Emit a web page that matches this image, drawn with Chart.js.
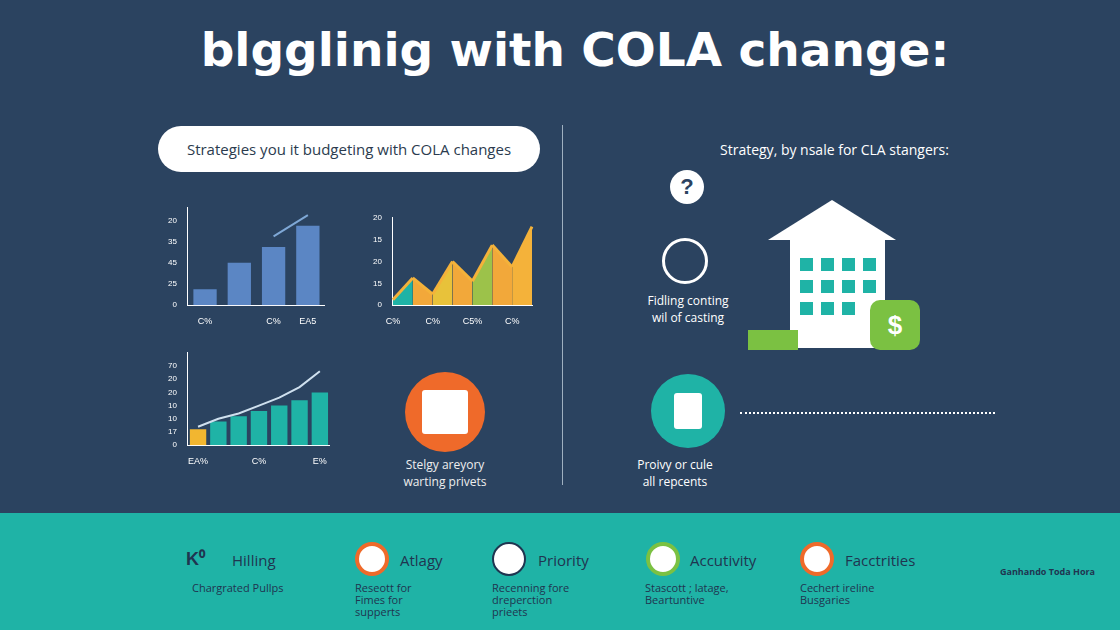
<!DOCTYPE html>
<html><head><meta charset="utf-8">
<script src="https://cdn.jsdelivr.net/npm/chart.js@4/dist/chart.umd.min.js"></script>
<style>
body{margin:0;width:1120px;height:630px;overflow:hidden;background:#2b4360;font-family:"Open Sans",sans-serif;position:relative}
.t{position:absolute;color:#fff}
#title{left:180px;width:790px;top:22px;text-align:center;font:700 47px "DejaVu Sans",sans-serif}
#pill{left:158px;top:126px;width:382px;height:46px;background:#fff;border-radius:23px;color:#2b3b4e;font-size:15px;line-height:46px;text-align:center}
#div{position:absolute;left:562px;top:125px;width:1px;height:360px;background:#9fb0c0}
canvas{position:absolute}
#band{position:absolute;left:0;top:513px;width:1120px;height:117px;background:#1fb3a6}
.it{position:absolute;top:550px;color:#1f3550;font-size:15px}
.cap{position:absolute;top:582px;color:#1f3550;font-size:11px;line-height:12px}
.ic{position:absolute;top:542px;width:34px;height:34px;border-radius:50%;background:#fff;box-sizing:border-box}
.w{position:absolute;width:13px;height:13px;background:#1fb3a6}
</style></head><body>
<div class="t" id="title">blgglinig with COLA change:</div>
<div class="t" id="pill">Strategies you it budgeting with COLA changes</div>
<div id="div"></div>
<div class="t" style="left:720px;top:140px;font-size:14px">Strategy, by nsale for CLA stangers:</div>
<div class="t" style="left:640px;top:292px;font-size:12px;text-align:center;width:96px">Fidling conting wil of casting</div>
<div class="t" style="left:395px;top:456px;font-size:12px;color:#eee;text-align:center;width:100px">Stelgy areyory warting privets</div>
<div class="t" style="left:630px;top:456px;font-size:12px;text-align:center;width:90px">Proivy or cule all repcents</div>
<div style="position:absolute;left:670px;top:170px;width:34px;height:34px;border-radius:50%;background:#fff;color:#2b4360;font:700 22px sans-serif;text-align:center;line-height:34px">?</div>
<div style="position:absolute;left:405px;top:372px;width:80px;height:80px;border-radius:50%;background:#ef6a2a"></div>
<div style="position:absolute;left:422px;top:390px;width:46px;height:44px;background:#fff;border-radius:3px"></div>
<div style="position:absolute;left:651px;top:374px;width:74px;height:74px;border-radius:50%;background:#1fb3a6"></div>
<div style="position:absolute;left:674px;top:393px;width:28px;height:36px;background:#fff;border-radius:3px"></div>
<div style="position:absolute;left:740px;top:412px;width:255px;border-top:2px dotted #fff"></div>
<div style="position:absolute;left:790px;top:238px;width:95px;height:110px;background:#fff"></div>
<div style="position:absolute;left:768px;top:200px;width:0;height:0;border-left:64px solid transparent;border-right:64px solid transparent;border-bottom:40px solid #fff"></div>
<div class="w" style="left:800px;top:258px"></div><div class="w" style="left:821px;top:258px"></div><div class="w" style="left:842px;top:258px"></div><div class="w" style="left:863px;top:258px"></div>
<div class="w" style="left:800px;top:280px"></div><div class="w" style="left:821px;top:280px"></div><div class="w" style="left:842px;top:280px"></div><div class="w" style="left:863px;top:280px"></div>
<div class="w" style="left:800px;top:302px"></div><div class="w" style="left:821px;top:302px"></div><div class="w" style="left:842px;top:302px"></div>
<div style="position:absolute;left:748px;top:330px;width:50px;height:20px;background:#7bc142"></div>
<div style="position:absolute;left:870px;top:300px;width:50px;height:50px;border-radius:10px;background:#7bc142;color:#fff;font:700 26px sans-serif;text-align:center;line-height:50px">$</div>
<div style="position:absolute;left:662px;top:238px;width:40px;height:40px;border-radius:50%;border:3px solid #fff"></div>
<canvas id="c1" style="left:165px;top:200px" width="160" height="130"></canvas>
<canvas id="c2" style="left:370px;top:210px" width="165" height="120"></canvas>
<canvas id="c3" style="left:165px;top:345px" width="165" height="125"></canvas>
<div id="band"></div>
<div class="ic" style="left:186px;background:none;color:#1f3550;font:700 18px sans-serif;line-height:34px">K⁰</div>
<div class="it" style="left:232px">Hilling</div><div class="cap" style="left:192px">Chargrated Pullps</div>
<div class="ic" style="left:355px;border:4px solid #ef6a2a"></div>
<div class="it" style="left:400px">Atlagy</div><div class="cap" style="left:355px">Reseott for<br>Fimes for<br>supperts</div>
<div class="ic" style="left:492px;border:2px solid #1f3550"></div>
<div class="it" style="left:538px">Priority</div><div class="cap" style="left:492px">Recenning fore<br>dreperction<br>prieets</div>
<div class="ic" style="left:646px;border:4px solid #7bc142"></div>
<div class="it" style="left:690px">Accutivity</div><div class="cap" style="left:645px">Stascott ; latage,<br>Beartuntive</div>
<div class="ic" style="left:800px;border:4px solid #ef6a2a"></div>
<div class="it" style="left:845px">Facctrities</div><div class="cap" style="left:800px">Cechert ireline<br>Busgaries</div>
<div class="t" style="left:1000px;top:565px;font-size:9px;color:#1f3550;font-weight:700">Ganhando Toda Hora</div>
<script>
const labels1=['C%','','C%','EA5'];
const vals1=[15,40,55,75];
const yTicks1=['0','25','45','35','20'];
const labels2=['C%','','C%','','C5%','','C%',''];
const vals2=[5,25,10,40,22,55,35,72];
const yTicks2=['0','15','20','15','20'];
const labels3=['EA%','','','C%','','','E%'];
const vals3=[12,18,22,26,30,34,40];
const trend3=[14,20,24,30,36,44,56];
const yTicks3=['0','17','10','10','20','20','70'];
const trend1=[null,null,65,85];
const txt='#fff';
function sc(ticks,max,step){return {
 x:{grid:{display:false},border:{color:'#fff'},ticks:{color:txt,font:{size:9},autoSkip:false,maxRotation:0}},
 y:{min:0,max:max,grid:{display:false},border:{color:'#fff'},ticks:{color:txt,font:{size:8},stepSize:step,callback:(v,i)=>ticks[i]||''}}};}
const base={responsive:false,animation:false,plugins:{legend:{display:false},tooltip:{enabled:false}}};
new Chart(c1,{type:'bar',data:{labels:labels1,datasets:[
 {type:'line',data:trend1,borderColor:'#7fa8d6',borderWidth:2,pointRadius:0},
 {data:vals1,backgroundColor:'#5b86c4',categoryPercentage:0.8,barPercentage:0.85}]},
 options:{...base,scales:sc(yTicks1,92,20)}});
new Chart(c2,{type:'line',data:{labels:labels2,datasets:[{data:vals2,fill:'origin',borderColor:'#f4b23a',backgroundColor:'#f2a83a',pointRadius:0,tension:0,
 segment:{backgroundColor:c=>['#1fb3a6','#f2a83a','#e8c23a','#f2a83a','#9cc24a','#f2a83a','#f4b23a'][c.p0DataIndex]}}]},
 options:{...base,scales:sc(yTicks2,80,20)}});
new Chart(c3,{type:'bar',data:{labels:labels3,datasets:[
 {type:'line',data:trend3,borderColor:'#cfe0ee',borderWidth:2,pointRadius:0},
 {data:vals3,backgroundColor:['#f2b630','#1fb3a6','#1fb3a6','#1fb3a6','#1fb3a6','#1fb3a6','#1fb3a6'],categoryPercentage:0.95,barPercentage:0.85}]},
 options:{...base,scales:sc(yTicks3,70,10)}});
</script>
</body></html>
